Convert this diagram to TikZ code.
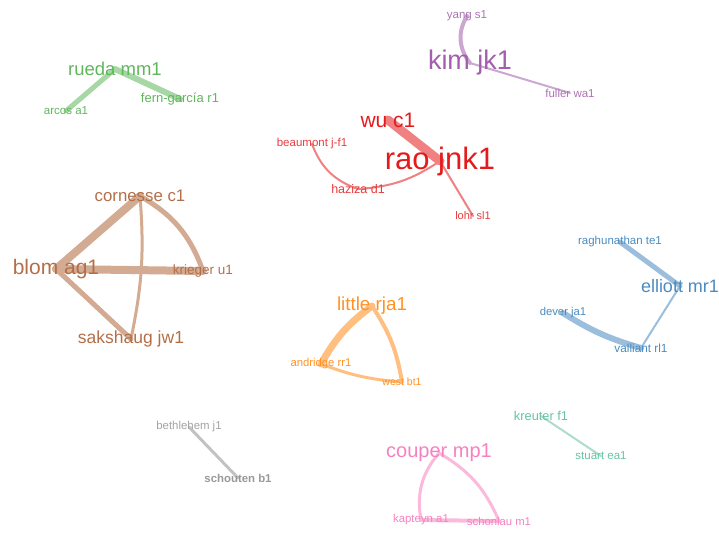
\documentclass[tikz,border=0pt]{standalone}
\usepackage{fontspec}
\setmainfont{Liberation Sans}
\usetikzlibrary{backgrounds}
\definecolor{cred}{HTML}{E41A1C}
\definecolor{cblue}{HTML}{377EB8}
\definecolor{cgreen}{HTML}{4DAF4A}
\definecolor{cpurple}{HTML}{984EA3}
\definecolor{corange}{HTML}{FF7F00}
\definecolor{cbrown}{HTML}{A65628}
\definecolor{cpink}{HTML}{F781BF}
\definecolor{cgray}{HTML}{999999}
\definecolor{cteal}{HTML}{66C2A5}
\begin{document}
\begin{tikzpicture}[x=1pt,y=1pt,
  lab/.style={inner sep=0pt,font=\fontsize{#1}{#1}\selectfont},
  lnk/.style={line width=#1,line cap=round}]
\useasboundingbox (0,-532) rectangle (719,0);
\node[lab=18.5,text=cgreen!90] (rueda) at (115,-69) {rueda mm1};
\node[lab=11.5,text=cgreen!90] (arcos) at (66,-111) {arcos a1};
\node[lab=13,text=cgreen!90] (ferngarcia) at (180,-99) {fern-garcía r1};
\node[lab=27,text=cpurple!90] (kim) at (470,-63) {kim jk1};
\node[lab=11.5,text=cpurple!80] (yang) at (467,-16) {yang s1};
\node[lab=11.5,text=cpurple!80] (fuller) at (570,-93) {fuller wa1};
\node[lab=31,text=cred] (rao) at (440,-161) {rao jnk1};
\node[lab=21,text=cred] (wu) at (388,-120) {wu c1};
\node[lab=11.5,text=cred!85] (beaumont) at (312,-144) {beaumont j-f1};
\node[lab=12.5,text=cred!85] (haziza) at (358,-189) {haziza d1};
\node[lab=11,text=cred!85] (lohr) at (473,-216) {lohr sl1};
\node[lab=16.8,text=cbrown!85] (cornesse) at (140,-196) {cornesse c1};
\node[lab=21,text=cbrown!85] (blom) at (56,-269) {blom ag1};
\node[lab=13.5,text=cbrown!85] (krieger) at (203,-271) {krieger u1};
\node[lab=17.5,text=cbrown!85] (sakshaug) at (131,-339) {sakshaug jw1};
\node[lab=18,text=cblue!90] (elliott) at (680,-286) {elliott mr1};
\node[lab=11.5,text=cblue!90] (raghunathan) at (620,-242) {raghunathan te1};
\node[lab=11.3,text=cblue!90] (dever) at (563,-313) {dever ja1};
\node[lab=11.8,text=cblue!90] (valliant) at (641,-348) {valliant rl1};
\node[lab=18.8,text=corange!85] (little) at (372,-306) {little rja1};
\node[lab=11.3,text=corange!85] (andridge) at (321,-364) {andridge rr1};
\node[lab=10.5,text=corange!85] (west) at (402,-382) {west bt1};
\node[lab=11.4,text=cgray!90] (bethlehem) at (189,-427) {bethlehem j1};
\node[inner sep=0pt,text=cgray,font=\fontsize{11.4}{11.4}\selectfont\bfseries] (schouten) at (238,-478) {schouten b1};
\node[lab=12.8,text=cteal] (kreuter) at (541,-416) {kreuter f1};
\node[lab=11.5,text=cteal] (stuart) at (601,-456) {stuart ea1};
\node[lab=20,text=cpink] (couper) at (439,-453) {couper mp1};
\node[lab=11.4,text=cpink] (kapteyn) at (421,-520) {kapteyn a1};
\node[lab=11.3,text=cpink] (schonlau) at (499,-521) {schonlau m1};
\begin{scope}[on background layer]
\draw[lnk=5,cgreen!50] (rueda.center) -- (arcos.center);
\draw[lnk=6,cgreen!50] (rueda.center) -- (ferngarcia.center);
\draw[lnk=4,cpurple!50] (yang.center) to[bend right=35] (kim.center);
\draw[lnk=2,cpurple!50] (kim.center) -- (fuller.center);
\draw[lnk=9,cred!55] (wu.center) -- (rao.center);
\draw[lnk=2,cred!55] (beaumont.center) to[bend right=25] (haziza.center);
\draw[lnk=2,cred!55] (haziza.center) to[bend right=15] (rao.center);
\draw[lnk=2,cred!55] (rao.center) -- (lohr.center);
\draw[lnk=8,cbrown!50] (blom.center) -- (cornesse.center);
\draw[lnk=8,cbrown!50] (blom.center) -- (krieger.center);
\draw[lnk=5,cbrown!50] (cornesse.center) to[bend left=20] (krieger.center);
\draw[lnk=3,cbrown!50] (cornesse.center) to[bend left=8] (sakshaug.center);
\draw[lnk=5,cbrown!50] (blom.center) -- (sakshaug.center);
\draw[lnk=5,cblue!50] (raghunathan.center) -- (elliott.center);
\draw[lnk=2,cblue!50] (elliott.center) -- (valliant.center);
\draw[lnk=6,cblue!50] (dever.center) to[bend right=8] (valliant.center);
\draw[lnk=7,corange!50] (little.center) to[bend right=12] (andridge.center);
\draw[lnk=4,corange!50] (little.center) to[bend left=12] (west.center);
\draw[lnk=3,corange!50] (andridge.center) to[bend right=8] (west.center);
\draw[lnk=3,cgray!60] (bethlehem.center) -- (schouten.center);
\draw[lnk=2,cteal!55] (kreuter.center) -- (stuart.center);
\draw[lnk=3,cpink!55] (couper.center) to[bend right=25] (kapteyn.center);
\draw[lnk=3,cpink!55] (couper.center) to[bend left=18] (schonlau.center);
\draw[lnk=4,cpink!55] (kapteyn.center) -- (schonlau.center);
\end{scope}
\end{tikzpicture}
\end{document}
